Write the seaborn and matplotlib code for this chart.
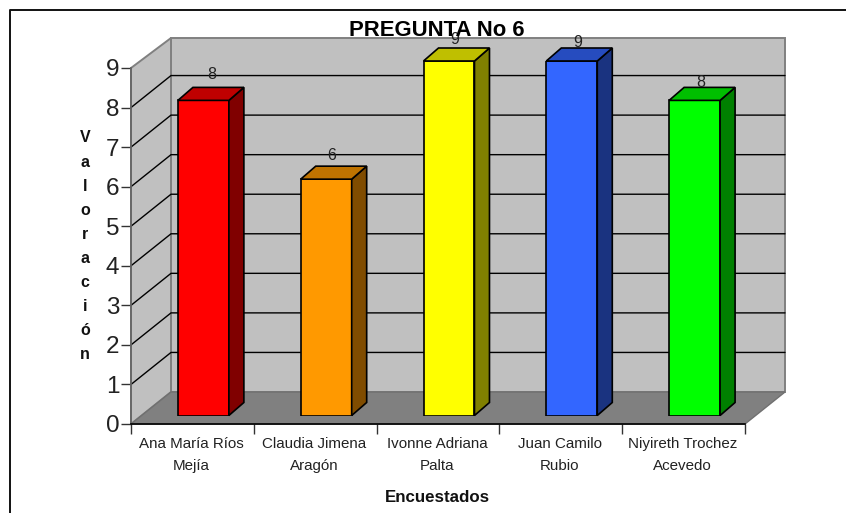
import matplotlib
matplotlib.use("Agg")
import matplotlib.pyplot as plt
from matplotlib.patches import Polygon
from matplotlib.transforms import Affine2D
import seaborn as sns
import pandas as pd

nombres = ["Ana María Ríos\nMejía", "Claudia Jimena\nAragón", "Ivonne Adriana\nPalta", "Juan Camilo\nRubio", "Niyireth Trochez\nAcevedo"]
valores = [8, 6, 9, 9, 8]
frente = ["#FF0000", "#FF9900", "#FFFF00", "#3366FF", "#00FF00"]
tapa = ["#BF0000", "#BF7300", "#BFBF00", "#264CBF", "#00BF00"]
lado = ["#800000", "#804C00", "#808000", "#1A3380", "#008000"]
marcas = list(range(10))
titulo = "PREGUNTA No 6"
rotulo_x = "Encuestados"
rotulo_y = "Valoración"
ajuste_etiqueta_x = [0, -3, -3, -3, -2]
ajuste_etiqueta_y = [6.5, 3.5, 1.5, -1.5, -1.5]

W, H = 846, 513
sns.set_theme(style="white")
plt.rcParams["font.family"] = ["Liberation Sans", "DejaVu Sans"]
fig = plt.figure(figsize=(W / 100, H / 100), dpi=100, facecolor="white")
px = Affine2D().scale(1, -1).translate(0, H)  # reference pixel coords

def rect(x0, y0, x1, y1):
    return [x0 / W, 1 - y1 / H, (x1 - x0) / W, (y1 - y0) / H]

def add(pts, **kw):
    fig.add_artist(Polygon(pts, closed=True, transform=px, zorder=-5, **kw))

# only the top and left of the chart frame fall inside the picture
fig.add_artist(plt.Line2D([10, 10, W], [H, 9.5, 9.5], transform=px, color="#111111", lw=1.4, zorder=-6))

L, R, B, T = 131, 745, 424, 68
DX, DY = 40, 32
GRIS = "#C0C0C0"
BORDE = "#808080"
add([(L + DX, T - 30), (R + DX, T - 30), (R + DX, B - DY), (L + DX, B - DY)], fc=GRIS, ec=BORDE, lw=1.4)
add([(L, T), (L + DX, T - 30), (L + DX, B - DY), (L, B)], fc=GRIS, ec=BORDE, lw=1.4)
add([(L, B), (L + DX, B - DY), (R + DX, B - DY), (R, B)], fc="#808080", ec="#707070", lw=1)

ax = fig.add_axes(rect(L, T, R, B), facecolor="none")
ax.set_xlim(0, 5)
ax.set_ylim(0, 9)
for k in marcas[1:-1]:
    yp = B - (B - T) / 9 * k
    fig.add_artist(plt.Line2D([L, L + DX, R + DX], [yp, yp - DY, yp - DY], transform=px, color="black", lw=1, zorder=-4))
ax.set_xticks(range(6))
ax.set_xticklabels([])
ax.set_yticks(marcas)
ax.tick_params(axis="y", labelsize=17.5, length=7, width=1, color="#333333", labelcolor="#222222", pad=1.5, left=True)
ax.tick_params(axis="x", length=7, width=1, color="#333333", direction="out", bottom=True)
for s in ["top", "right"]:
    ax.spines[s].set_visible(False)
ax.spines["left"].set_color("#666666")
ax.spines["bottom"].set_color("black")
ax.spines["bottom"].set_linewidth(1.2)

# bars: own axes, shifted into the depth of the floor
BB, TB = 415.5, 61
ax2 = fig.add_axes(rect(L + 11, TB, R + 11, BB), facecolor="none")
df = pd.DataFrame({"nombre": nombres, "valor": valores})
sns.barplot(data=df, x="nombre", y="valor", hue="nombre", palette=frente, legend=False,
            width=0.415, edgecolor="black", linewidth=1.2, ax=ax2, saturation=1)
ax2.set_xlim(-0.5, 4.5)
ax2.set_ylim(0, 9)
ax2.axis("off")
dxd, dyd = 15 / 122.8, 13 / ((BB - TB) / 9)
for p, v, ct, cl, ox, oy in zip(list(ax2.patches), valores, tapa, lado, ajuste_etiqueta_x, ajuste_etiqueta_y):
    x0, x1 = p.get_x(), p.get_x() + p.get_width()
    ax2.add_patch(Polygon([(x1, 0), (x1 + dxd, dyd), (x1 + dxd, v + dyd), (x1, v)], fc=cl, ec="black", lw=1.2, clip_on=False))
    ax2.add_patch(Polygon([(x0, v), (x0 + dxd, v + dyd), (x1 + dxd, v + dyd), (x1, v)], fc=ct, ec="black", lw=1.2, clip_on=False))
    ax2.annotate(str(v), ((x0 + x1) / 2 + 0.07, v + dyd - 0.02), xytext=(ox, oy), textcoords="offset pixels",
                 ha="center", va="bottom", fontsize=11.5, color="#222222", annotation_clip=False)

paso = (R - L) / 5
for i, n in enumerate(nombres):
    a, b = n.split("\n")
    fig.text((L + paso * (i + 0.5) - 1) / W, 1 - 444 / H, a, ha="center", va="center", fontsize=10.9, color="#222222")
    fig.text((L + paso * (i + 0.5) - 1) / W, 1 - 466 / H, b, ha="center", va="center", fontsize=10.9, color="#222222")

fig.text(437 / W, 1 - 30 / H, titulo, ha="center", va="center", fontsize=15.9, fontweight="bold", color="black")
fig.text(437 / W, 1 - 497 / H, rotulo_x, ha="center", va="center", fontsize=12.2, fontweight="bold", color="#111111")
for i, c in enumerate(rotulo_y):
    fig.text(85 / W, 1 - (138 + i * 24.1) / H, c, ha="center", va="center", fontsize=11.5, fontweight="bold", color="#111111")

fig.savefig("out.png", dpi=100, facecolor="white")
